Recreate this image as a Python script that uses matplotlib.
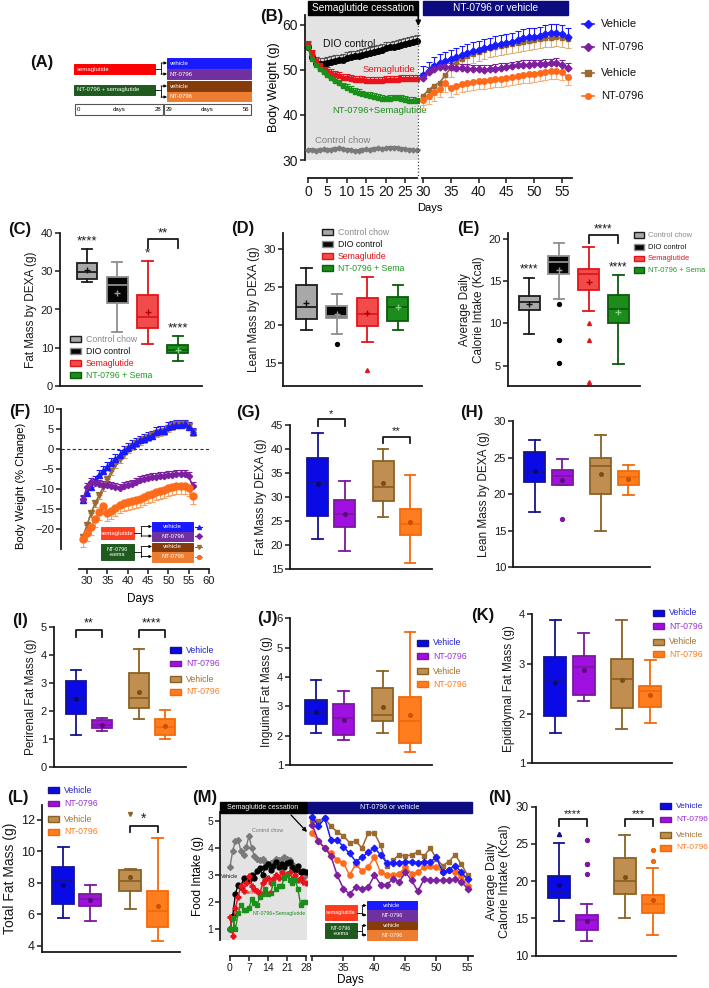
import numpy as np
import matplotlib
matplotlib.use('Agg')
import matplotlib.pyplot as plt
from matplotlib.patches import Rectangle

plt.rcParams['font.family'] = ['Liberation Sans', 'DejaVu Sans']

# ---------------- DATA ----------------
# Panel B: body weight (g)
b_days_pre = list(range(0, 29))
b_chow = [32.2, 32.3, 32.1, 32.3, 32.4, 32.2, 32.3, 32.5, 32.6, 32.4, 32.3, 32.2, 32.0, 32.1, 32.3,
          32.4, 32.3, 32.5, 32.6, 32.5, 32.6, 32.7, 32.7, 32.6, 32.5, 32.4, 32.3, 32.2, 32.2]
b_dio = [55.0, 52.8, 51.6, 51.3, 51.4, 51.6, 51.8, 52.0, 52.1, 52.3, 52.6, 52.8, 53.0, 53.2, 53.4,
         53.6, 53.8, 54.0, 54.3, 54.5, 54.8, 55.0, 55.2, 55.4, 55.6, 55.8, 56.0, 56.3, 56.5]
b_sema = [55.5, 53.5, 52.0, 51.0, 50.3, 49.8, 49.3, 48.9, 48.6, 48.3, 48.1, 47.9, 47.8, 47.7, 47.7,
          47.6, 47.6, 47.6, 47.5, 47.5, 47.7, 47.8, 47.8, 47.8, 47.9, 47.9, 48.0, 48.0, 48.0]
b_ntsema = [55.0, 52.5, 51.0, 50.2, 49.5, 48.8, 48.2, 47.6, 47.0, 46.4, 46.0, 45.6, 45.2, 44.9, 44.6,
            44.4, 44.2, 44.0, 43.8, 43.6, 43.5, 43.6, 43.7, 43.7, 43.6, 43.4, 43.2, 43.1, 43.0]
b_days_post = list(range(30, 57))
b_veh_a = [48.8, 49.8, 50.8, 51.5, 52.0, 52.5, 52.9, 53.3, 53.7, 54.1, 54.5, 54.9, 55.2, 55.5, 55.8,
           56.0, 56.3, 56.6, 57.0, 57.3, 57.4, 57.6, 58.0, 58.3, 58.3, 58.0, 57.4]
b_nt_a = [48.3, 49.6, 50.3, 50.6, 50.7, 50.6, 50.5, 50.4, 50.3, 50.2, 50.1, 50.0, 50.2, 50.3, 50.5,
          50.6, 50.8, 51.0, 51.1, 51.2, 51.3, 51.3, 51.4, 51.5, 51.6, 51.2, 50.5]
b_veh_b = [44.3, 45.5, 46.5, 47.2, 48.8, 50.5, 51.8, 52.5, 53.0, 53.5, 54.0, 54.4, 54.8, 55.1, 55.4,
           55.6, 55.8, 56.0, 56.2, 56.4, 56.6, 56.8, 57.0, 57.2, 57.3, 57.0, 56.8]
b_nt_b = [43.3, 44.2, 45.0, 45.8, 47.0, 45.9, 46.4, 46.8, 47.1, 47.3, 47.5, 47.6, 47.8, 47.9, 48.0,
          48.2, 48.4, 48.6, 48.8, 49.0, 49.2, 49.4, 49.6, 49.8, 49.8, 49.6, 48.4]
b_err = [0.3, 1.3, 0.9, 0.8, 2.0, 1.0, 2.0, 1.8]  # chow, dio, sema, ntsema, veh_a, nt_a, veh_b, nt_b

# Panel F: % change
f_days = list(range(29, 57))
f_veh_a = [-12.8, -11.0, -9.5, -8.0, -6.5, -5.5, -4.4, -3.5, -2.5, -1.5, -0.5, 0.3, 1.0, 1.6, 2.2,
           2.6, 3.0, 3.3, 4.3, 4.5, 4.6, 5.5, 5.8, 6.0, 6.0, 6.2, 5.5, 4.2]
f_veh_b = [-22.0, -19.0, -16.0, -13.5, -11.5, -9.5, -7.5, -5.5, -3.8, -2.5, -1.2, 0.0, 0.8, 1.5, 2.0,
           2.5, 3.0, 3.5, 4.0, 4.2, 4.6, 5.3, 5.8, 6.2, 6.3, 6.3, 5.8, 4.2]
f_nt_a = [-12.5, -9.5, -8.3, -8.5, -8.8, -9.0, -9.0, -9.2, -9.5, -9.7, -9.3, -9.0, -8.6, -8.2, -7.8,
          -7.4, -7.2, -7.0, -6.9, -6.8, -6.7, -6.5, -6.4, -6.3, -6.2, -6.3, -6.8, -9.2]
f_nt_b = [-22.5, -21.0, -19.5, -17.5, -15.8, -14.2, -16.0, -15.5, -14.8, -14.0, -13.5, -13.2, -13.0,
          -12.8, -12.5, -12.0, -11.5, -11.2, -10.8, -10.5, -10.2, -9.8, -9.5, -9.2, -9.2, -9.3, -9.8, -11.8]
f_err = [1.2, 1.0, 1.0, 2.0]

# Panel M: food intake (g)
m_days_pre = list(range(0, 29))
m_chow = [3.3, 3.9, 4.25, 4.3, 3.9, 3.75, 4.05, 4.45, 4.0, 3.7, 3.6, 3.55, 3.6, 3.5, 3.4, 3.45, 3.5,
          3.6, 3.55, 3.6, 3.65, 3.6, 3.55, 3.4, 3.3, 3.2, 3.1, 2.9, 3.0]
m_dio = [1.0, 1.5, 2.3, 2.65, 2.55, 2.9, 2.75, 2.8, 3.0, 2.9, 3.15, 3.25, 3.0, 3.3, 3.4, 3.2, 3.35,
         3.5, 3.3, 3.4, 3.3, 3.45, 3.5, 3.3, 3.2, 3.35, 3.1, 3.15, 3.1]
m_sema = [1.45, 0.75, 1.8, 2.2, 2.6, 2.4, 2.7, 2.95, 2.6, 2.5, 2.4, 2.3, 2.7, 2.8, 2.9, 2.7, 2.85,
          3.0, 2.9, 3.1, 2.95, 3.05, 3.1, 2.85, 3.0, 2.8, 2.9, 2.75, 2.7]
m_ntsema = [1.0, 1.4, 1.0, 1.6, 1.9, 1.7, 1.7, 1.8, 2.1, 1.95, 1.9, 2.2, 2.3, 2.5, 2.3, 2.35, 2.7,
            2.5, 2.6, 2.6, 2.9, 3.0, 2.8, 2.7, 2.8, 2.5, 1.9, 2.0, 2.0]
m_days_post = list(range(30, 56))
m_veh_a = [5.15, 4.8, 5.1, 4.3, 4.3, 4.05, 3.8, 3.5, 3.65, 3.85, 4.0, 3.75, 3.45, 3.45, 3.45, 3.5,
           3.5, 3.45, 3.5, 3.5, 3.65, 3.1, 3.2, 3.35, 3.1, 2.85]
m_veh_b = [5.05, 5.0, 5.1, 4.8, 4.6, 4.45, 4.2, 4.25, 4.0, 4.55, 4.55, 4.1, 3.35, 3.55, 3.75, 3.7,
           3.75, 3.85, 3.7, 4.0, 3.6, 3.35, 3.5, 3.75, 3.4, 3.0]
m_nt_a = [4.85, 4.25, 4.0, 3.7, 3.0, 2.5, 2.3, 2.55, 2.5, 2.55, 3.0, 2.65, 2.65, 2.85, 2.75, 3.1,
          2.8, 2.4, 2.85, 2.8, 2.8, 2.8, 2.8, 2.85, 2.75, 2.5]
m_nt_b = [4.55, 4.25, 4.0, 3.8, 3.55, 3.45, 3.0, 3.4, 3.15, 3.3, 3.65, 3.1, 3.0, 3.0, 3.05, 3.3,
          3.05, 3.1, 3.3, 3.35, 3.3, 3.1, 3.2, 3.1, 2.95, 2.6]

# Box panels: [whislo, q1, median, q3, whishi, mean]
groups_cde = ['Control chow', 'DIO control', 'Semaglutide', 'NT-0796 + Sema']
groups_4 = ['Vehicle', 'NT-0796', 'Vehicle', 'NT-0796']
c_stats = [[27.2, 28.0, 29.8, 32.2, 35.8, 30.3], [14.0, 21.8, 26.5, 28.6, 32.5, 24.3],
           [11.1, 15.1, 18.0, 23.7, 32.8, 19.4], [6.6, 8.5, 9.5, 10.6, 13.2, 9.5]]
d_stats = [[19.3, 20.8, 22.3, 25.2, 27.5, 22.9], [18.8, 20.9, 21.2, 22.5, 24.1, 21.4],
           [17.8, 19.9, 21.4, 23.6, 26.3, 21.6], [19.4, 20.5, 22.4, 23.7, 25.3, 22.3]]
d_fliers = [[], [17.5], [14.1], []]
e_stats = [[8.8, 11.6, 12.6, 13.2, 15.4, 12.3], [12.9, 15.9, 17.3, 18.0, 19.5, 16.3],
           [11.5, 14.0, 15.8, 16.4, 19.1, 14.9], [5.2, 10.0, 11.7, 13.4, 15.7, 11.4]]
e_fliers = [[], [12.3, 8.0, 5.3], [10.0, 8.1, 3.1], []]
g_stats = [[21.2, 26.0, 33.2, 38.2, 43.3, 32.8], [18.8, 23.8, 26.5, 29.4, 33.3, 26.4],
           [25.9, 29.2, 32.0, 37.4, 39.9, 32.9], [16.3, 22.1, 24.4, 27.4, 34.6, 24.8]]
h_stats = [[17.5, 21.7, 23.0, 25.8, 27.4, 23.2], [21.2, 21.3, 22.5, 23.3, 24.8, 22.0],
           [15.0, 20.0, 23.8, 25.0, 28.1, 22.8], [19.9, 21.3, 22.4, 23.2, 24.0, 22.1]]
h_fliers = [[], [16.6], [], []]
i_stats = [[1.14, 1.9, 2.44, 3.07, 3.45, 2.42], [1.28, 1.38, 1.5, 1.67, 1.73, 1.5],
           [1.7, 2.08, 2.46, 3.34, 4.22, 2.68], [0.99, 1.14, 1.42, 1.7, 2.02, 1.45]]
j_stats = [[2.1, 2.4, 2.77, 3.22, 3.9, 2.82], [1.86, 2.03, 2.6, 3.08, 3.53, 2.55],
           [2.08, 2.5, 2.7, 3.63, 4.22, 2.97], [1.46, 1.75, 2.5, 3.33, 5.52, 2.7]]
k_stats = [[1.6, 1.96, 2.68, 3.15, 3.88, 2.62], [2.25, 2.38, 2.93, 3.17, 3.63, 2.87],
           [1.7, 2.12, 2.7, 3.1, 3.88, 2.68], [1.82, 2.13, 2.45, 2.55, 3.07, 2.38]]
l_stats = [[5.74, 6.65, 8.18, 8.99, 10.25, 7.86], [5.57, 6.55, 6.97, 7.29, 7.86, 6.9],
           [6.31, 7.5, 8.12, 8.82, 8.85, 8.39], [4.32, 5.21, 6.23, 7.48, 10.85, 6.55]]
l_fliers = [[], [], [12.36], []]
n_stats = [[14.6, 17.8, 18.35, 20.7, 25.1, 19.55], [12.0, 13.5, 14.75, 15.5, 17.0, 14.6],
           [15.1, 18.3, 20.0, 23.05, 26.2, 20.6], [12.8, 15.7, 17.0, 18.2, 21.8, 17.45]]
n_fliers = [[26.3, 26.3], [25.5, 22.3, 22.3, 21.0], [], [24.2, 22.7]]

# ---------------- STYLE ----------------
W, H = 709, 988
fig = plt.figure(figsize=(W / 100, H / 100), dpi=100)
PT = 0.72  # points per pixel at 100 dpi


def axpx(l, t, r, b):
    return fig.add_axes([l / W, 1 - b / H, (r - l) / W, (b - t) / H])


INK = '#1a1a1a'
CHOW_F, CHOW_E = '#a8a8a8', '#1c1c1c'
DIO_F, DIO_E = '#050505', '#8f8f8f'
SEMA_F, SEMA_E = '#f24b4b', '#e0161b'
NT_F, NT_E = '#1c8c1c', '#0c5c0c'
BL_F, BL_E = '#0a0ae6', '#14148f'
PU_F, PU_E = '#a010e0', '#7a189e'
BR_F, BR_E = '#bf8e50', '#8a6224'
OR_F, OR_E = '#ff7d1e', '#f26a0a'
L_BLUE, L_PURP, L_BRWN, L_ORNG = '#1a1aff', '#7d20a0', '#9b6a2f', '#ff6b1a'


def style(ax, tfs=8):
    for s in ('top', 'right'):
        ax.spines[s].set_visible(False)
    for s in ('left', 'bottom'):
        ax.spines[s].set_linewidth(1.3)
        ax.spines[s].set_color(INK)
    ax.tick_params(width=1.1, length=3.5, labelsize=tfs, colors=INK, pad=1.5)


ov = fig.add_axes([0, 0, 1, 1], zorder=10)
ov.set_xlim(0, W)
ov.set_ylim(H, 0)
ov.axis('off')
ov.patch.set_alpha(0)


def plabel(x, y, s):
    ov.text(x, y, s, fontsize=12, fontweight='bold', ha='center', va='center', color='#111')


def sbox(x0, y0, x1, y1, fc, text, fs=4.3, ha='left', ec=None, tc='white'):
    ov.add_patch(Rectangle((x0, y0), x1 - x0, y1 - y0, fc=fc, ec=ec or fc, lw=0.7))
    tx = x0 + 3 if ha == 'left' else (x0 + x1) / 2
    ov.text(tx, (y0 + y1) / 2, text, fontsize=fs, color=tc, ha=ha, va='center', linespacing=1.0)


def connector(xs, ys, xm, xt, y1, y2):
    ov.plot([xs, xm], [ys, ys], color='k', lw=0.6)
    ov.plot([xm, xm], [y1, y2], color='k', lw=0.6)
    for yt in (y1, y2):
        ov.annotate('', xy=(xt, yt), xytext=(xm, yt),
                    arrowprops=dict(arrowstyle='-|>', lw=0.6, color='k', mutation_scale=4,
                                    shrinkA=0, shrinkB=0))


def legend_px(x, ys, labels, faces, edges, tcolors, fs=6.3, gap=16, pw=11):
    for y, lab, f, e, tc in zip(ys, labels, faces, edges, tcolors):
        ov.add_patch(Rectangle((x, y - 2.8), pw, 5.6, fc=f, ec=e, lw=1.0))
        ov.text(x + gap, y, lab, color=tc, fontsize=fs, va='center', ha='left')


def boxpanel(rect, ylim, yticks, xlim, positions, width, stats, faces, edges, meancols,
             meanmk, fliers=None, fmk=None, ylabel='', tfs=8, yfs=8.5):
    ax = axpx(*rect)
    for i, s in enumerate(stats):
        st = dict(whislo=s[0], q1=s[1], med=s[2], q3=s[3], whishi=s[4], mean=s[5],
                  fliers=(fliers[i] if fliers else []))
        mk = fmk[i] if fmk else 'o'
        fcol = edges[i] if edges[i] != DIO_E else 'k'
        ax.bxp([st], positions=[positions[i]], widths=width, capwidths=width * 0.5,
               showmeans=True, patch_artist=True,
               boxprops=dict(facecolor=faces[i], edgecolor=edges[i], lw=1.3),
               medianprops=dict(color=edges[i], lw=1.3),
               whiskerprops=dict(color=edges[i], lw=1.3),
               capprops=dict(color=edges[i], lw=1.3),
               meanprops=dict(marker=meanmk, markeredgecolor=meancols[i],
                              markerfacecolor=meancols[i], markersize=4 if meanmk == '+' else 2.6,
                              markeredgewidth=1.0),
               flierprops=dict(marker=mk, markerfacecolor=fcol, markeredgecolor=fcol,
                               markersize=2.8, linestyle='none'))
    ax.set_xlim(*xlim)
    ax.set_ylim(*ylim)
    ax.set_xticks([])
    ax.set_yticks(yticks)
    style(ax, tfs)
    ax.set_ylabel(ylabel, fontsize=yfs, labelpad=3, color=INK)
    return ax


def bracket(ax, x1, x2, ytop, yleg, text, fs=8):
    ax.plot([x1, x1, x2, x2], [yleg, ytop, ytop, yleg], color=INK, lw=1.3, clip_on=False)
    ax.text((x1 + x2) / 2, ytop, text, ha='center', va='bottom', fontsize=fs, color=INK, clip_on=False)


cde_faces = [CHOW_F, DIO_F, SEMA_F, NT_F]
cde_edges = [CHOW_E, DIO_E, SEMA_E, NT_E]
cde_means = ['#111111', '#9a9a9a', '#b30000', '#7fd07f']
g4_faces = [BL_F, PU_F, BR_F, OR_F]
g4_edges = [BL_E, PU_E, BR_E, OR_E]
g4_means = ['#0a0a70', '#5c0c7a', '#7a5016', '#c85000']
cde_txt = ['#8a8a8a', '#111111', '#e0161b', '#1f9a1f']
g4_txt = ['#2020d0', '#9b30d0', '#a07030', '#ff7a20']

# ---------------- (A) schematic ----------------
plabel(42, 62, '(A)')
sbox(74, 64, 155, 74, '#ff0000', 'semaglutide')
sbox(74, 85, 155, 95, '#1f5a1f', 'NT-0796 + semaglutide')
connector(155, 69, 161, 167, 63, 74)
connector(155, 90, 161, 167, 86, 97)
sbox(167, 58, 251, 68.5, '#1a1aff', 'vehicle')
sbox(167, 69, 251, 79, '#7030a0', 'NT-0796')
sbox(167, 81, 251, 91, '#843c0c', 'vehicle')
sbox(167, 92, 251, 101.5, '#ed7d31', 'NT-0796')
for (x0, x1, a, b) in [(75, 163, '0', '28'), (164, 251, '29', '56')]:
    ov.add_patch(Rectangle((x0, 104), x1 - x0, 11.5, fc='white', ec='#555555', lw=0.8))
    ov.text(x0 + 2, 109.7, a, fontsize=4.3, ha='left', va='center')
    ov.text((x0 + x1) / 2, 109.7, 'days', fontsize=4.3, ha='center', va='center')
    ov.text(x1 - 2, 109.7, b, fontsize=4.3, ha='right', va='center')

# ---------------- (B) ----------------
plabel(272, 17, '(B)')
axB1 = axpx(305, 15, 418, 160)
axB1.set_facecolor('#e3e3e3')
axB1.set_xlim(-0.77, 28.26)
axB1.set_ylim(30, 62.2)
style(axB1, 10)
axB1.spines['bottom'].set_position(('outward', 18 * PT))
axB1.spines['bottom'].set_bounds(0, 28)
axB1.set_xticks([0, 5, 10, 15, 20, 25])
axB1.set_yticks([30, 40, 50, 60])
axB1.set_ylabel('Body Weight (g)', fontsize=9, labelpad=2)


def eplot(ax, x, y, err, color, mk, ms, direction='up', ecolor=None, lw=1.2, zo=3):
    y = np.asarray(y)
    e = np.full(len(y), err)
    z = np.zeros(len(y))
    yerr = [z, e] if direction == 'up' else [e, z]
    ax.errorbar(x, y, yerr=yerr, color=color, marker=mk, ms=ms, lw=lw, elinewidth=0.8,
                capsize=2.2, capthick=0.8, ecolor=ecolor or color, zorder=zo, clip_on=False)


eplot(axB1, b_days_pre, b_chow, b_err[0], '#7a7a7a', 'D', 2.5)
eplot(axB1, b_days_pre, b_dio, b_err[1], 'black', 'o', 4, ecolor='#555555')
eplot(axB1, b_days_pre, b_sema, b_err[2], '#e8141c', 's', 3.5)
eplot(axB1, b_days_pre, b_ntsema, b_err[3], '#1a8f1a', 's', 3.5)
axB1.text(3.9, 55.8, 'DIO control', fontsize=7.5, color='#111', ha='left', va='center')
axB1.text(27.6, 50.1, 'Semaglutide', fontsize=6.8, color='#e8141c', ha='right', va='center')
axB1.text(6.2, 40.9, 'NT-0796+Semaglutide', fontsize=6.8, color='#1a8f1a', ha='left', va='center')
axB1.text(1.8, 34.4, 'Control chow', fontsize=6.8, color='#808080', ha='left', va='center')

axB2 = axpx(418, 15, 572, 160)
axB2.patch.set_alpha(0)
axB2.set_xlim(29.1, 56.8)
axB2.set_ylim(30, 62.2)
style(axB2, 10)
axB2.spines['left'].set_visible(False)
axB2.tick_params(axis='y', left=False, labelleft=False)
axB2.spines['bottom'].set_position(('outward', 18 * PT))
axB2.spines['bottom'].set_bounds(29.9, 56.8)
axB2.set_xticks([30, 35, 40, 45, 50, 55])
eplot(axB2, b_days_post, b_veh_b, b_err[6], L_BRWN, 's', 3.5, 'down', ecolor='#d9b27a')
eplot(axB2, b_days_post, b_nt_b, b_err[7], L_ORNG, 'o', 4, 'down', ecolor='#f7ae78')
eplot(axB2, b_days_post, b_veh_a, b_err[4], L_BLUE, 'D', 3.5)
eplot(axB2, b_days_post, b_nt_a, b_err[5], L_PURP, 'D', 3.5)

ov.add_patch(Rectangle((308, 1.5), 110, 13.5, fc='black', ec='black'))
ov.text(363, 8.3, 'Semaglutide cessation', color='white', fontsize=7.3, ha='center', va='center')
ov.add_patch(Rectangle((422.7, 1.5), 145.6, 13.5, fc='#0c0c80', ec='#0c0c80'))
ov.text(495.5, 8.3, 'NT-0796 or vehicle', color='white', fontsize=7.3, ha='center', va='center')
ov.plot([418.3, 418.3], [22, 178], ls=':', color='#444', lw=0.9)
ov.annotate('', xy=(418.3, 26), xytext=(418.3, 15),
            arrowprops=dict(arrowstyle='-|>', color='black', lw=1.2, mutation_scale=7,
                            shrinkA=0, shrinkB=0))
ov.text(430, 208, 'Days', fontsize=8, ha='center', va='center')
for y, lab, c, mk in [(24, 'Vehicle', L_BLUE, 'D'), (47, 'NT-0796', L_PURP, 'D'),
                      (73, 'Vehicle', L_BRWN, 's'), (96, 'NT-0796', L_ORNG, 'o')]:
    ov.plot([582, 594], [y, y], color=c, lw=1.2)
    ov.plot([588], [y], marker=mk, color=c, ms=4)
    ov.text(601, y, lab, fontsize=8, ha='left', va='center', color='#111')

# ---------------- (C) ----------------
plabel(20, 229, '(C)')
axC = boxpanel((60, 233, 202, 386), (0, 40), [0, 10, 20, 30, 40], (-0.89, 3.8), [0, 1, 2, 3],
               0.69, c_stats, cde_faces, cde_edges, cde_means, '+', ylabel='Fat Mass by DEXA (g)')
axC.text(0, 36.2, '****', ha='center', va='bottom', fontsize=9.5, color=INK)
axC.text(2, 33.0, '*', ha='center', va='bottom', fontsize=9.5, color=INK)
axC.text(3, 13.5, '****', ha='center', va='bottom', fontsize=9.5, color=INK)
bracket(axC, 2, 3, 38.4, 36.0, '**', 9.5)
legend_px(70, [339, 351, 363, 375], groups_cde, cde_faces, cde_edges, cde_txt)

# ---------------- (D) ----------------
plabel(243, 228, '(D)')
axD = boxpanel((283, 233, 422, 386), (11.97, 32.1), [15, 20, 25, 30], (-0.77, 3.79), [0, 1, 2, 3],
               0.69, d_stats, cde_faces, cde_edges, cde_means, '+', d_fliers, ['o', 'o', '^', 'o'],
               ylabel='Lean Mass by DEXA (g)')
legend_px(322, [232, 244, 256, 268], groups_cde, cde_faces, cde_edges, cde_txt)

# ---------------- (E) ----------------
plabel(468, 228, '(E)')
axE = boxpanel((508, 233, 640, 386), (2.6, 20.71), [5, 10, 15, 20], (-0.71, 3.73), [0, 1, 2, 3],
               0.7, e_stats, cde_faces, cde_edges, cde_means, '+', e_fliers, ['o', 'o', '^', 'o'],
               ylabel='Average Daily\nCalorie Intake (Kcal)')
axE.text(0, 15.7, '****', ha='center', va='bottom', fontsize=8.5, color=INK)
axE.text(3, 15.9, '****', ha='center', va='bottom', fontsize=8.5, color=INK)
bracket(axE, 2, 3, 20.45, 19.5, '****', 8.5)
legend_px(634, [235, 247, 258.5, 270], groups_cde, cde_faces, cde_edges, cde_txt, fs=5.4,
          gap=14, pw=10)

# ---------------- (F) ----------------
plabel(20, 411, '(F)')
axF = axpx(61, 409, 209, 549)
axF.set_xlim(23.6, 60)
axF.set_ylim(-25, 10.07)
style(axF, 8)
axF.spines['bottom'].set_position(('outward', 20 * PT))
axF.spines['bottom'].set_bounds(28, 60)
axF.set_xticks([30, 35, 40, 45, 50, 55, 60])
axF.set_yticks([-20, -15, -10, -5, 0, 5, 10])
axF.axhline(0, ls='--', color='#333', lw=0.8, dashes=(3, 2))
eplot(axF, f_days, f_veh_b, f_err[1], L_BRWN, 'v', 4, 'down', ecolor='#c99a5b')
eplot(axF, f_days, f_veh_a, f_err[0], L_BLUE, '^', 4)
eplot(axF, f_days, f_nt_a, f_err[2], L_PURP, 'D', 3.2)
eplot(axF, f_days, f_nt_b, f_err[3], L_ORNG, 'o', 5, 'down', ecolor='#f7a060')
axF.set_ylabel('Body Weight (% Change)', fontsize=8, labelpad=2)
axF.yaxis.set_label_coords(-0.235, 0.45)
ov.text(140, 599, 'Days', fontsize=8.5, ha='center', va='center')
sbox(100.5, 527, 134, 539, '#ff4020', 'semaglutide', fs=4.3, ha='center')
sbox(100.5, 544, 134, 559.5, '#1f5a1f', 'NT-0796\n+sema', fs=4.0, ha='center')
connector(134, 533, 141, 152, 526.5, 536)
connector(134, 551.5, 141, 152, 546.5, 556.5)
sbox(152, 521.5, 193, 531.5, '#1a1aff', 'vehicle', fs=4.3, ha='center')
sbox(152, 531.5, 193, 541, '#7030a0', 'NT-0796', fs=4.3, ha='center')
sbox(152, 542.5, 193, 551, '#843c0c', 'vehicle', fs=4.3, ha='center')
sbox(152, 551.5, 193, 561.5, '#ed7d31', 'NT-0796', fs=4.3, ha='center')
for y, c, mk in [(526.5, L_BLUE, '^'), (536, L_PURP, 'D'), (546.5, L_BRWN, 'v'), (556.5, L_ORNG, 'o')]:
    ov.plot([195, 202], [y, y], color=c, lw=0.8)
    ov.plot([198.5], [y], marker=mk, color=c, ms=2.8)

# ---------------- (G) ----------------
plabel(248, 412, '(G)')
axG = boxpanel((290, 425, 432, 569), (15, 45), [15, 20, 25, 30, 35, 40, 45], (-1.02, 4.24),
               [0, 1, 2.43, 3.43], 0.78, g_stats, g4_faces, g4_edges, g4_means, 'o',
               ylabel='Fat Mass by DEXA (g)')
bracket(axG, 0, 1, 46.2, 44.8, '*', 8)
bracket(axG, 2.43, 3.43, 42.6, 41.2, '**', 8)

# ---------------- (H) ----------------
plabel(472, 412, '(H)')
axH = boxpanel((513, 421, 650, 567.3), (10, 30), [10, 15, 20, 25, 30], (-0.79, 4.19),
               [0, 1, 2.4, 3.4], 0.77, h_stats, g4_faces, g4_edges, g4_means, 'o', h_fliers,
               ylabel='Lean Mass by DEXA (g)')

# ---------------- (I) ----------------
plabel(20, 620, '(I)')
axI = boxpanel((54, 626.7, 186, 766.7), (0, 5), [0, 1, 2, 3, 4, 5], (-0.85, 4.23),
               [0, 1, 2.41, 3.41], 0.77, i_stats, g4_faces, g4_edges, g4_means, 'o',
               ylabel='Perirenal Fat Mass (g)')
bracket(axI, 0, 1, 4.9, 4.62, '**', 9)
bracket(axI, 2.41, 3.41, 4.9, 4.62, '****', 9)
legend_px(170, [650, 663.3, 679, 691.7], groups_4, g4_faces, g4_edges, g4_txt)

# ---------------- (J) ----------------
plabel(267, 618, '(J)')
axJ = boxpanel((290, 618.3, 432, 765), (1, 6), [1, 2, 3, 4, 5, 6], (-0.95, 4.22),
               [0, 1, 2.42, 3.42], 0.78, j_stats, g4_faces, g4_edges, g4_means, 'o',
               ylabel='Inguinal Fat Mass (g)')
legend_px(417, [642.7, 656, 671, 684], groups_4, g4_faces, g4_edges, g4_txt)

# ---------------- (K) ----------------
plabel(483, 615, '(K)')
axK = boxpanel((532, 614.3, 672, 763.3), (1, 4), [1, 2, 3, 4], (-0.81, 4.1),
               [0, 1, 2.33, 3.33], 0.77, k_stats, g4_faces, g4_edges, g4_means, 'o',
               ylabel='Epididymal Fat Mass (g)')
legend_px(653, [612.7, 626, 641.7, 654], groups_4, g4_faces, g4_edges, g4_txt)

# ---------------- (L) ----------------
plabel(18, 797, '(L)')
axL = boxpanel((41.7, 805, 180, 951.7), (3.62, 12.95), [4, 6, 8, 10, 12], (-0.78, 4.27),
               [0, 1, 2.45, 3.45], 0.8, l_stats, g4_faces, g4_edges, g4_means, 'o', l_fliers,
               ['o', 'o', 'v', 'o'], ylabel='Total Fat Mass (g)', tfs=9, yfs=10)
bracket(axL, 2.45, 3.45, 11.62, 11.26, '*', 10)
legend_px(48, [790, 803.3, 819, 831.7], groups_4, g4_faces, g4_edges, g4_txt)

# ---------------- (M) ----------------
plabel(205, 797, '(M)')
axM1 = axpx(220, 812, 306.7, 940)
axM1.set_facecolor('#e3e3e3')
axM1.set_xlim(-3.68, 28.25)
axM1.set_ylim(0.6, 5.33)
style(axM1, 7.5)
axM1.spines['bottom'].set_position(('outward', 16 * PT))
axM1.spines['bottom'].set_bounds(0, 28)
axM1.set_xticks([0, 7, 14, 21, 28])
axM1.set_yticks([1, 2, 3, 4, 5])
axM1.set_ylabel('Food Intake (g)', fontsize=8.5, labelpad=2)
axM1.plot(m_days_pre, m_chow, color='#7a7a7a', marker='D', ms=3, lw=1.0)
axM1.plot(m_days_pre, m_dio, color='black', marker='o', ms=3.5, lw=1.0)
axM1.plot(m_days_pre, m_sema, color='#e8141c', marker='P', ms=3.5, lw=1.0)
axM1.plot(m_days_pre, m_ntsema, color='#1a8f1a', marker='s', ms=3.2, lw=1.0)
axM1.text(8.0, 4.63, 'Control chow', fontsize=3.8, color='#777777', ha='left', va='center')
axM1.text(-3.2, 2.94, 'Vehicle', fontsize=3.8, color='#111', ha='left', va='center')
axM1.text(5.5, 2.35, 'Semaglutide', fontsize=3.8, color='#e8141c', ha='left', va='center')
axM1.text(8.5, 1.57, 'NT-0796+Semaglutide', fontsize=3.8, color='#1a8f1a', ha='left', va='center')

axM2 = axpx(306.7, 812, 475, 940)
axM2.patch.set_alpha(0)
axM2.set_xlim(29.1, 56.2)
axM2.set_ylim(0.6, 5.33)
style(axM2, 7.5)
axM2.spines['left'].set_visible(False)
axM2.tick_params(axis='y', left=False, labelleft=False)
axM2.spines['bottom'].set_position(('outward', 16 * PT))
axM2.spines['bottom'].set_bounds(29.8, 55.9)
axM2.set_xticks([30, 35, 40, 45, 50, 55])
axM2.set_xticklabels(['', '35', '40', '45', '50', '55'])
axM2.plot(m_days_post, m_veh_b, color=L_BRWN, marker='s', ms=3.3, lw=1.1)
axM2.plot(m_days_post, m_nt_b, color=L_ORNG, marker='o', ms=3.8, lw=1.1)
axM2.plot(m_days_post, m_veh_a, color=L_BLUE, marker='D', ms=3.3, lw=1.1)
axM2.plot(m_days_post, m_nt_a, color=L_PURP, marker='D', ms=3.3, lw=1.1)

ov.add_patch(Rectangle((220, 802), 86.5, 10.5, fc='black', ec='black'))
ov.text(263, 807.3, 'Semaglutide cessation', color='white', fontsize=5, ha='center', va='center')
ov.add_patch(Rectangle((308, 802), 164, 10.5, fc='#0c0c80', ec='#0c0c80'))
ov.text(390, 807.3, 'NT-0796 or vehicle', color='white', fontsize=5, ha='center', va='center')
ov.annotate('', xy=(307, 832), xytext=(291, 815),
            arrowprops=dict(arrowstyle='-|>', color='black', lw=0.9, mutation_scale=6,
                            shrinkA=0, shrinkB=0))
ov.text(350, 980, 'Days', fontsize=8.5, ha='center', va='center')
sbox(325, 905, 357, 920, '#ff3b1f', 'semaglutide', fs=4.0, ha='center')
sbox(325, 923, 357, 938, '#1f5a1f', 'NT-0796\n+sema', fs=3.8, ha='center')
connector(357, 912.5, 362, 366.7, 905.5, 915)
connector(357, 930.5, 362, 366.7, 925.5, 935)
sbox(366.7, 900.7, 417.3, 910.3, '#1a1aff', 'vehicle', fs=4.0, ha='center')
sbox(366.7, 910.3, 417.3, 920, '#7030a0', 'NT-0796', fs=4.0, ha='center')
sbox(366.7, 920.7, 417.3, 930, '#843c0c', 'vehicle', fs=4.0, ha='center')
sbox(366.7, 930, 417.3, 940, '#ed7d31', 'NT-0796', fs=4.0, ha='center')

# ---------------- (N) ----------------
plabel(500, 797, '(N)')
axN = boxpanel((535.7, 806.7, 676, 955.7), (10, 30), [10, 15, 20, 25, 30], (-0.83, 4.19),
               [0, 1, 2.36, 3.36], 0.77, n_stats, g4_faces, g4_edges, g4_means, 'o', n_fliers,
               ['^', 'o', 'o', 'o'], ylabel='Average Daily\nCalorie Intake (Kcal)', tfs=8.5, yfs=9)
bracket(axN, 0, 1, 28.4, 27.4, '****', 8)
bracket(axN, 2.36, 3.36, 28.4, 27.4, '***', 8)
legend_px(660, [806, 819.3, 835, 847.7], groups_4, g4_faces, g4_edges, g4_txt, fs=6.0)

fig.savefig('out.png', dpi=100)
